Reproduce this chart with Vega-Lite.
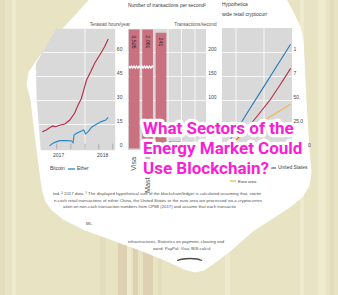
{
  "$schema": "https://vega.github.io/schema/vega-lite/v6.json",
  "width": 338,
  "height": 295,
  "padding": 0,
  "autosize": {"type": "none"},
  "background": "#e8e3c3",
  "config": {"view": {"stroke": null}},
  "resolve": {"scale": {"x": "independent", "y": "independent", "color": "independent"}},
  "layer": [
    {
      "layer": [
        {
          "data": {"values": [
            {"x0": 0, "x1": 5, "shade": "pale"},
            {"x0": 12, "x1": 16, "shade": "light"},
            {"x0": 100, "x1": 106, "shade": "pale"},
            {"x0": 118, "x1": 127, "shade": "tan"},
            {"x0": 127, "x1": 131, "shade": "light"},
            {"x0": 133, "x1": 138, "shade": "tan"},
            {"x0": 143, "x1": 153, "shade": "tan"},
            {"x0": 158, "x1": 162, "shade": "pale"},
            {"x0": 225, "x1": 230, "shade": "light"},
            {"x0": 300, "x1": 304, "shade": "light"},
            {"x0": 318, "x1": 326, "shade": "light"},
            {"x0": 330, "x1": 334, "shade": "pale"}
          ]},
          "mark": {"type": "rect"},
          "encoding": {
            "x": {"field": "x0", "type": "quantitative", "scale": {"domain": [0, 338], "range": [0, 338], "nice": false, "zero": false}, "axis": null},
            "x2": {"field": "x1"},
            "y": {"datum": 0, "type": "quantitative", "scale": {"domain": [0, 295], "range": [0, 295], "nice": false, "zero": false}, "axis": null},
            "y2": {"datum": 295},
            "color": {"field": "shade", "type": "nominal", "scale": {"domain": ["pale", "light", "tan"], "range": ["#e3ddbd", "#eeeace", "#ddd1b2"]}, "legend": null}
          }
        },
        {
          "data": {"values": [
            {"i": 1, "x": 92, "y": -3}, {"i": 2, "x": 285, "y": -3}, {"i": 3, "x": 294, "y": 14},
            {"i": 4, "x": 300, "y": 27}, {"i": 5, "x": 303, "y": 40}, {"i": 6, "x": 306, "y": 100},
            {"i": 7, "x": 309, "y": 150}, {"i": 8, "x": 311, "y": 172}, {"i": 9, "x": 309, "y": 186},
            {"i": 10, "x": 302, "y": 197}, {"i": 11, "x": 290, "y": 207}, {"i": 12, "x": 253, "y": 231},
            {"i": 13, "x": 230, "y": 251}, {"i": 14, "x": 213, "y": 264}, {"i": 15, "x": 204, "y": 270},
            {"i": 16, "x": 195, "y": 272}, {"i": 17, "x": 184, "y": 269}, {"i": 18, "x": 167, "y": 261},
            {"i": 19, "x": 140, "y": 250}, {"i": 20, "x": 85, "y": 230}, {"i": 21, "x": 63, "y": 219},
            {"i": 22, "x": 52, "y": 210}, {"i": 23, "x": 46, "y": 202}, {"i": 24, "x": 43, "y": 192},
            {"i": 25, "x": 41, "y": 180}, {"i": 26, "x": 37, "y": 150}, {"i": 27, "x": 31, "y": 100},
            {"i": 28, "x": 27, "y": 85}, {"i": 29, "x": 29, "y": 72}, {"i": 30, "x": 40, "y": 56},
            {"i": 31, "x": 60, "y": 32}
          ]},
          "mark": {"type": "line", "interpolate": "linear-closed", "fill": "#ffffff", "stroke": "#ffffff", "strokeWidth": 1},
          "encoding": {
            "x": {"field": "x", "type": "quantitative", "scale": {"domain": [0, 338], "range": [0, 338], "nice": false, "zero": false}, "axis": null},
            "y": {"field": "y", "type": "quantitative", "scale": {"domain": [0, 295], "range": [0, 295], "nice": false, "zero": false}, "axis": null},
            "order": {"field": "i", "type": "quantitative"}
          }
        },
        {
          "data": {"values": [
            {"i": 1, "x": 56, "y": 29}, {"i": 2, "x": 115, "y": 29}, {"i": 3, "x": 115, "y": 150},
            {"i": 4, "x": 41, "y": 150}, {"i": 5, "x": 37, "y": 100}, {"i": 6, "x": 36, "y": 64}
          ]},
          "mark": {"type": "line", "interpolate": "linear-closed", "fill": "#d9d9da", "stroke": "#d9d9da", "strokeWidth": 0.5},
          "encoding": {
            "x": {"field": "x", "type": "quantitative", "scale": {"domain": [0, 338], "range": [0, 338], "nice": false, "zero": false}, "axis": null},
            "y": {"field": "y", "type": "quantitative", "scale": {"domain": [0, 295], "range": [0, 295], "nice": false, "zero": false}, "axis": null},
            "order": {"field": "i", "type": "quantitative"}
          }
        },
        {
          "data": {"values": [
            {"x0": 128, "x1": 206, "y0": 29, "y1": 150},
            {"x0": 222, "x1": 292, "y0": 28, "y1": 150}
          ]},
          "mark": {"type": "rect", "fill": "#d9d9da"},
          "encoding": {
            "x": {"field": "x0", "type": "quantitative", "scale": {"domain": [0, 338], "range": [0, 338], "nice": false, "zero": false}, "axis": null},
            "x2": {"field": "x1"},
            "y": {"field": "y0", "type": "quantitative", "scale": {"domain": [0, 295], "range": [0, 295], "nice": false, "zero": false}, "axis": null},
            "y2": {"field": "y1"}
          }
        },
        {
          "data": {"values": [
            {"x0": 43, "x1": 115, "y0": 52.5, "y1": 52.5},
            {"x0": 36.5, "x1": 115, "y0": 76.5, "y1": 76.5},
            {"x0": 37, "x1": 115, "y0": 100.5, "y1": 100.5},
            {"x0": 38, "x1": 115, "y0": 124.5, "y1": 124.5},
            {"x0": 85, "x1": 85, "y0": 29, "y1": 150},
            {"x0": 128, "x1": 206, "y0": 52.5, "y1": 52.5},
            {"x0": 128, "x1": 206, "y0": 76.5, "y1": 76.5},
            {"x0": 128, "x1": 206, "y0": 100.5, "y1": 100.5},
            {"x0": 128, "x1": 206, "y0": 124.5, "y1": 124.5},
            {"x0": 168, "x1": 168, "y0": 29, "y1": 150},
            {"x0": 181.5, "x1": 181.5, "y0": 29, "y1": 150},
            {"x0": 195, "x1": 195, "y0": 29, "y1": 150},
            {"x0": 222, "x1": 292, "y0": 52.5, "y1": 52.5},
            {"x0": 222, "x1": 292, "y0": 76.5, "y1": 76.5},
            {"x0": 222, "x1": 292, "y0": 100.5, "y1": 100.5},
            {"x0": 222, "x1": 292, "y0": 124.5, "y1": 124.5},
            {"x0": 236, "x1": 236, "y0": 28, "y1": 150},
            {"x0": 264, "x1": 264, "y0": 28, "y1": 150}
          ]},
          "mark": {"type": "rule", "color": "#ffffff", "strokeWidth": 0.8},
          "encoding": {
            "x": {"field": "x0", "type": "quantitative", "scale": {"domain": [0, 338], "range": [0, 338], "nice": false, "zero": false}, "axis": null},
            "x2": {"field": "x1"},
            "y": {"field": "y0", "type": "quantitative", "scale": {"domain": [0, 295], "range": [0, 295], "nice": false, "zero": false}, "axis": null},
            "y2": {"field": "y1"}
          }
        }
      ]
    },
    {
      "layer": [
        {
          "data": {"values": [
            {"date": "2017-07-01"}, {"date": "2017-10-01"}, {"date": "2018-01-01"}, {"date": "2018-04-01"}, {"date": "2018-07-01"}
          ]},
          "mark": {"type": "rule", "color": "#9a9a9a", "strokeWidth": 0.7},
          "encoding": {
            "x": {"field": "date", "type": "temporal", "scale": {"type": "utc", "domain": [{"year": 2017, "month": 1, "date": 1, "utc": true}, {"year": 2018, "month": 1, "date": 1, "utc": true}], "range": [29, 85], "nice": false}, "axis": null},
            "y": {"datum": -0.5, "type": "quantitative", "scale": {"domain": [0, 60], "range": [148.5, 52.5], "nice": false, "zero": false}, "axis": null},
            "y2": {"datum": 3}
          }
        },
        {
          "data": {"values": [
            {"date": "2017-03-29", "series": "Bitcoin", "twh": 10.5},
            {"date": "2017-04-24", "series": "Bitcoin", "twh": 11.6},
            {"date": "2017-05-20", "series": "Bitcoin", "twh": 13.3},
            {"date": "2017-06-06", "series": "Bitcoin", "twh": 14.1},
            {"date": "2017-06-24", "series": "Bitcoin", "twh": 13.6},
            {"date": "2017-07-20", "series": "Bitcoin", "twh": 14.5},
            {"date": "2017-08-22", "series": "Bitcoin", "twh": 15.3},
            {"date": "2017-09-24", "series": "Bitcoin", "twh": 17.8},
            {"date": "2017-10-26", "series": "Bitcoin", "twh": 22.2},
            {"date": "2017-11-17", "series": "Bitcoin", "twh": 27.2},
            {"date": "2017-12-09", "series": "Bitcoin", "twh": 31.4},
            {"date": "2017-12-24", "series": "Bitcoin", "twh": 36.6},
            {"date": "2018-01-11", "series": "Bitcoin", "twh": 42.8},
            {"date": "2018-02-07", "series": "Bitcoin", "twh": 48.0},
            {"date": "2018-03-05", "series": "Bitcoin", "twh": 53.3},
            {"date": "2018-04-07", "series": "Bitcoin", "twh": 58.4},
            {"date": "2018-05-09", "series": "Bitcoin", "twh": 63.6},
            {"date": "2018-06-01", "series": "Bitcoin", "twh": 68.4},
            {"date": "2017-05-15", "series": "Ether", "twh": 1.6},
            {"date": "2017-06-06", "series": "Ether", "twh": 3.3},
            {"date": "2017-07-02", "series": "Ether", "twh": 4.3},
            {"date": "2017-07-20", "series": "Ether", "twh": 4.9},
            {"date": "2017-09-02", "series": "Ether", "twh": 4.9},
            {"date": "2017-10-05", "series": "Ether", "twh": 4.7},
            {"date": "2017-10-15", "series": "Ether", "twh": 3.6},
            {"date": "2017-10-22", "series": "Ether", "twh": 8.4},
            {"date": "2017-11-07", "series": "Ether", "twh": 9.5},
            {"date": "2017-12-09", "series": "Ether", "twh": 10.9},
            {"date": "2017-12-24", "series": "Ether", "twh": 11.6},
            {"date": "2018-01-05", "series": "Ether", "twh": 9.1},
            {"date": "2018-01-22", "series": "Ether", "twh": 10.5},
            {"date": "2018-02-13", "series": "Ether", "twh": 13.3},
            {"date": "2018-03-16", "series": "Ether", "twh": 15.1},
            {"date": "2018-04-18", "series": "Ether", "twh": 16.8},
            {"date": "2018-05-16", "series": "Ether", "twh": 17.8},
            {"date": "2018-06-01", "series": "Ether", "twh": 19.5}
          ]},
          "mark": {"type": "line", "strokeWidth": 1.1},
          "encoding": {
            "x": {"field": "date", "type": "temporal", "scale": {"type": "utc", "domain": [{"year": 2017, "month": 1, "date": 1, "utc": true}, {"year": 2018, "month": 1, "date": 1, "utc": true}], "range": [29, 85], "nice": false}, "axis": null},
            "y": {"field": "twh", "type": "quantitative", "scale": {"domain": [0, 60], "range": [148.5, 52.5], "nice": false, "zero": false}, "axis": null},
            "color": {"field": "series", "type": "nominal", "scale": {"domain": ["Bitcoin", "Ether"], "range": ["#b52a42", "#2a85c4"]}, "legend": null}
          }
        },
        {
          "data": {"values": [{"twh": 0}, {"twh": 15}, {"twh": 30}, {"twh": 45}, {"twh": 60}]},
          "mark": {"type": "text", "align": "right", "baseline": "middle", "dy": -3.5, "fontSize": 5, "font": "Liberation Sans", "color": "#444444"},
          "encoding": {
            "x": {"datum": {"year": 2018, "month": 9, "date": 2, "utc": true}, "type": "temporal", "scale": {"type": "utc", "domain": [{"year": 2017, "month": 1, "date": 1, "utc": true}, {"year": 2018, "month": 1, "date": 1, "utc": true}], "range": [29, 85], "nice": false}, "axis": null},
            "y": {"field": "twh", "type": "quantitative", "scale": {"domain": [0, 60], "range": [148.5, 52.5], "nice": false, "zero": false}, "axis": null},
            "text": {"field": "twh", "type": "quantitative", "format": "d"}
          }
        },
        {
          "data": {"values": [{"date": "2017-07-13", "label": "2017"}, {"date": "2018-04-26", "label": "2018"}]},
          "mark": {"type": "text", "align": "center", "baseline": "middle", "fontSize": 5, "font": "Liberation Sans", "color": "#444444"},
          "encoding": {
            "x": {"field": "date", "type": "temporal", "scale": {"type": "utc", "domain": [{"year": 2017, "month": 1, "date": 1, "utc": true}, {"year": 2018, "month": 1, "date": 1, "utc": true}], "range": [29, 85], "nice": false}, "axis": null},
            "y": {"datum": -4.2, "type": "quantitative", "scale": {"domain": [0, 60], "range": [148.5, 52.5], "nice": false, "zero": false}, "axis": null},
            "text": {"field": "label", "type": "nominal"}
          }
        }
      ]
    },
    {
      "data": {"values": [
        {"name": "Visa", "tps": 3526},
        {"name": "Mastercard", "tps": 2061},
        {"name": "PayPal", "tps": 241},
        {"name": "Ethereum", "tps": 15},
        {"name": "Bitcoin", "tps": 3.3}
      ]},
      "layer": [
        {
          "mark": {"type": "bar", "color": "#c9717f"},
          "encoding": {
            "x": {"field": "name", "type": "nominal", "sort": null, "scale": {"type": "band", "domain": ["Visa", "Mastercard", "PayPal", "Ethereum", "Bitcoin"], "range": [127.5, 194.5], "paddingInner": 0.2, "paddingOuter": 0.1}, "axis": null},
            "y": {"field": "tps", "type": "quantitative", "scale": {"domain": [0, 248], "range": [148.5, 29.46], "clamp": true, "nice": false, "zero": false}, "axis": null}
          }
        },
        {
          "transform": [{"filter": "datum.tps > 200"}],
          "mark": {"type": "text", "angle": 90, "align": "center", "baseline": "middle", "fontSize": 5.3, "font": "Liberation Sans", "color": "#3a1a22"},
          "encoding": {
            "x": {"field": "name", "type": "nominal", "sort": null, "scale": {"type": "band", "domain": ["Visa", "Mastercard", "PayPal", "Ethereum", "Bitcoin"], "range": [127.5, 194.5], "paddingInner": 0.2, "paddingOuter": 0.1}, "axis": null},
            "y": {"datum": 222, "type": "quantitative", "scale": {"domain": [0, 248], "range": [148.5, 29.46], "clamp": true, "nice": false, "zero": false}, "axis": null},
            "text": {"field": "tps", "type": "quantitative", "format": ","}
          }
        },
        {
          "transform": [{"filter": "datum.tps > 1000"}],
          "mark": {"type": "text", "angle": 270, "align": "right", "baseline": "middle", "dx": -8.5, "fontSize": 7.2, "font": "Liberation Sans", "color": "#555555"},
          "encoding": {
            "x": {"field": "name", "type": "nominal", "sort": null, "scale": {"type": "band", "domain": ["Visa", "Mastercard", "PayPal", "Ethereum", "Bitcoin"], "range": [127.5, 194.5], "paddingInner": 0.2, "paddingOuter": 0.1}, "axis": null},
            "y": {"datum": 0, "type": "quantitative", "scale": {"domain": [0, 248], "range": [148.5, 29.46], "clamp": true, "nice": false, "zero": false}, "axis": null},
            "text": {"field": "name", "type": "nominal"}
          }
        },
        {
          "data": {"values": [{"tps": 100}, {"tps": 150}, {"tps": 200}]},
          "mark": {"type": "text", "align": "right", "baseline": "middle", "dy": -3.5, "dx": 28.7, "fontSize": 5, "font": "Liberation Sans", "color": "#444444"},
          "encoding": {
            "x": {"datum": "Bitcoin", "type": "nominal", "scale": {"type": "band", "domain": ["Visa", "Mastercard", "PayPal", "Ethereum", "Bitcoin"], "range": [127.5, 194.5], "paddingInner": 0.2, "paddingOuter": 0.1}, "axis": null},
            "y": {"field": "tps", "type": "quantitative", "scale": {"domain": [0, 248], "range": [148.5, 29.46], "clamp": true, "nice": false, "zero": false}, "axis": null},
            "text": {"field": "tps", "type": "quantitative", "format": "d"}
          }
        }
      ]
    },
    {
      "layer": [
        {
          "data": {"values": [
            {"t": 0.4, "region": "United States", "size": 0},
            {"t": 2, "region": "United States", "size": 18500},
            {"t": 4, "region": "United States", "size": 41600},
            {"t": 6, "region": "United States", "size": 64700},
            {"t": 8, "region": "United States", "size": 87800},
            {"t": 9.8, "region": "United States", "size": 108600},
            {"t": 0.4, "region": "China", "size": 0},
            {"t": 1.5, "region": "China", "size": 5500},
            {"t": 3, "region": "China", "size": 15500},
            {"t": 4.96, "region": "China", "size": 33100},
            {"t": 6.86, "region": "China", "size": 50500},
            {"t": 8.29, "region": "China", "size": 66100},
            {"t": 9.81, "region": "China", "size": 83500},
            {"t": 0.4, "region": "Euro area", "size": 0},
            {"t": 3.5, "region": "Euro area", "size": 16500},
            {"t": 6.86, "region": "Euro area", "size": 33100},
            {"t": 9.81, "region": "Euro area", "size": 46000}
          ]},
          "mark": {"type": "line", "strokeWidth": 1.1},
          "encoding": {
            "x": {"field": "t", "type": "quantitative", "scale": {"domain": [0, 10], "range": [222, 292], "nice": false, "zero": false}, "axis": null},
            "y": {"field": "size", "type": "quantitative", "scale": {"domain": [0, 100000], "range": [148.5, 52.5], "nice": false, "zero": false}, "axis": null},
            "color": {"field": "region", "type": "nominal", "scale": {"domain": ["China", "United States", "Euro area"], "range": ["#b52a42", "#2478b8", "#efb84f"]}, "legend": null}
          }
        },
        {
          "data": {"values": [
            {"size": 100000, "shown": "1"},
            {"size": 75000, "shown": "7"},
            {"size": 50000, "shown": "50,"},
            {"size": 25000, "shown": "25,0"}
          ]},
          "mark": {"type": "text", "align": "left", "baseline": "middle", "dy": -3.5, "fontSize": 5, "font": "Liberation Sans", "color": "#444444"},
          "encoding": {
            "x": {"datum": 10.2, "type": "quantitative", "scale": {"domain": [0, 10], "range": [222, 292], "nice": false, "zero": false}, "axis": null},
            "y": {"field": "size", "type": "quantitative", "scale": {"domain": [0, 100000], "range": [148.5, 52.5], "nice": false, "zero": false}, "axis": null},
            "text": {"field": "shown", "type": "nominal"}
          }
        },
        {
          "data": {"values": [{"size": 0, "shown": "0"}]},
          "mark": {"type": "text", "align": "right", "baseline": "middle", "dy": -3.5, "fontSize": 5, "font": "Liberation Sans", "color": "#444444"},
          "encoding": {
            "x": {"datum": 12.7, "type": "quantitative", "scale": {"domain": [0, 10], "range": [222, 292], "nice": false, "zero": false}, "axis": null},
            "y": {"field": "size", "type": "quantitative", "scale": {"domain": [0, 100000], "range": [148.5, 52.5], "nice": false, "zero": false}, "axis": null},
            "text": {"field": "shown", "type": "nominal"}
          }
        }
      ]
    },
    {
      "layer": [
        {
          "data": {"values": [
            {"i": 1, "x": 128.8, "y": 66.2}, {"i": 2, "x": 130.1, "y": 68}, {"i": 3, "x": 131.4, "y": 66.2},
            {"i": 4, "x": 132.7, "y": 68}, {"i": 5, "x": 134, "y": 66.2}, {"i": 6, "x": 135.3, "y": 68},
            {"i": 7, "x": 136.6, "y": 66.2}, {"i": 8, "x": 137.9, "y": 68}, {"i": 9, "x": 139.2, "y": 66.2},
            {"i": 10, "x": 140.5, "y": 68}, {"i": 11, "x": 141.8, "y": 66.2}, {"i": 12, "x": 143.1, "y": 68},
            {"i": 13, "x": 144.4, "y": 66.2}, {"i": 14, "x": 145.7, "y": 68}, {"i": 15, "x": 147, "y": 66.2},
            {"i": 16, "x": 148.3, "y": 68}, {"i": 17, "x": 149.6, "y": 66.2}, {"i": 18, "x": 150.9, "y": 68},
            {"i": 19, "x": 152.2, "y": 66.2}, {"i": 20, "x": 153, "y": 67.2}
          ]},
          "mark": {"type": "line", "color": "#ffffff", "strokeWidth": 1.4},
          "encoding": {
            "x": {"field": "x", "type": "quantitative", "scale": {"domain": [0, 338], "range": [0, 338], "nice": false, "zero": false}, "axis": null},
            "y": {"field": "y", "type": "quantitative", "scale": {"domain": [0, 295], "range": [0, 295], "nice": false, "zero": false}, "axis": null},
            "order": {"field": "i", "type": "quantitative"}
          }
        },
        {
          "data": {"values": [
            {"i": 1, "x": 177, "y": 260.5}, {"i": 2, "x": 183, "y": 259}, {"i": 3, "x": 190, "y": 258.5},
            {"i": 4, "x": 197, "y": 259}, {"i": 5, "x": 202, "y": 260.5}
          ]},
          "mark": {"type": "line", "color": "#4a4a4a", "strokeWidth": 1.3, "interpolate": "monotone"},
          "encoding": {
            "x": {"field": "x", "type": "quantitative", "scale": {"domain": [0, 338], "range": [0, 338], "nice": false, "zero": false}, "axis": null},
            "y": {"field": "y", "type": "quantitative", "scale": {"domain": [0, 295], "range": [0, 295], "nice": false, "zero": false}, "axis": null},
            "order": {"field": "i", "type": "quantitative"}
          }
        },
        {
          "data": {"values": [
            {"x0": 68, "x1": 75, "y": 169, "series": "Ether"},
            {"x0": 268, "x1": 276, "y": 168, "series": "United States"},
            {"x0": 230, "x1": 236, "y": 181, "series": "Euro area"}
          ]},
          "mark": {"type": "rule", "strokeWidth": 1.3},
          "encoding": {
            "x": {"field": "x0", "type": "quantitative", "scale": {"domain": [0, 338], "range": [0, 338], "nice": false, "zero": false}, "axis": null},
            "x2": {"field": "x1"},
            "y": {"field": "y", "type": "quantitative", "scale": {"domain": [0, 295], "range": [0, 295], "nice": false, "zero": false}, "axis": null},
            "color": {"field": "series", "type": "nominal", "scale": {"domain": ["Ether", "United States", "Euro area"], "range": ["#2a85c4", "#2478b8", "#efb84f"]}, "legend": null}
          }
        },
        {
          "data": {"values": [
            {"x": 50, "y": 169, "t": "Bitcoin"},
            {"x": 77, "y": 169, "t": "Ether"},
            {"x": 278, "y": 168, "t": "United States"},
            {"x": 128, "y": 5.5, "t": "Number of transactions per second²"},
            {"x": 222, "y": 5, "t": "Hypothetica"},
            {"x": 222, "y": 14.5, "t": "wide retail cryptocurr"}
          ]},
          "mark": {"type": "text", "align": "left", "baseline": "middle", "fontSize": 4.9, "font": "Liberation Sans", "color": "#3a3a3a"},
          "encoding": {
            "x": {"field": "x", "type": "quantitative", "scale": {"domain": [0, 338], "range": [0, 338], "nice": false, "zero": false}, "axis": null},
            "y": {"field": "y", "type": "quantitative", "scale": {"domain": [0, 295], "range": [0, 295], "nice": false, "zero": false}, "axis": null},
            "text": {"field": "t", "type": "nominal"}
          }
        },
        {
          "data": {"values": [
            {"x": 238, "y": 181.5, "t": "Euro area"}
          ]},
          "mark": {"type": "text", "align": "left", "baseline": "middle", "fontSize": 4.2, "font": "Liberation Sans", "color": "#3a3a3a"},
          "encoding": {
            "x": {"field": "x", "type": "quantitative", "scale": {"domain": [0, 338], "range": [0, 338], "nice": false, "zero": false}, "axis": null},
            "y": {"field": "y", "type": "quantitative", "scale": {"domain": [0, 295], "range": [0, 295], "nice": false, "zero": false}, "axis": null},
            "text": {"field": "t", "type": "nominal"}
          }
        },
        {
          "data": {"values": [
            {"x": 130, "y": 25, "t": "Terawatt hours/year"},
            {"x": 216.5, "y": 25, "t": "Transactions/second"}
          ]},
          "mark": {"type": "text", "align": "right", "baseline": "middle", "fontSize": 4.6, "font": "Liberation Sans", "color": "#555555"},
          "encoding": {
            "x": {"field": "x", "type": "quantitative", "scale": {"domain": [0, 338], "range": [0, 338], "nice": false, "zero": false}, "axis": null},
            "y": {"field": "y", "type": "quantitative", "scale": {"domain": [0, 295], "range": [0, 295], "nice": false, "zero": false}, "axis": null},
            "text": {"field": "t", "type": "nominal"}
          }
        },
        {
          "data": {"values": [
            {"x": 53, "y": 194, "t": "ted.  ² 2017 data.  ³ The displayed hypothetical size of the blockchain/ledger is calculated assuming that, startin"},
            {"x": 54, "y": 200.5, "t": "n-cash retail transactions of either China, the United States or the euro area are processed via a cryptocurren"},
            {"x": 63, "y": 207, "t": "ation on non-cash transaction numbers from CPMI (2017) and assume that each transactio"},
            {"x": 86, "y": 224, "t": "ML."},
            {"x": 128, "y": 242, "t": "infrastructures, Statistics on payment, clearing and"},
            {"x": 153, "y": 248.5, "t": "ward; PayPal; Visa; BIS calcul"}
          ]},
          "mark": {"type": "text", "align": "left", "baseline": "middle", "fontSize": 4.3, "font": "Liberation Sans", "color": "#505050"},
          "encoding": {
            "x": {"field": "x", "type": "quantitative", "scale": {"domain": [0, 338], "range": [0, 338], "nice": false, "zero": false}, "axis": null},
            "y": {"field": "y", "type": "quantitative", "scale": {"domain": [0, 295], "range": [0, 295], "nice": false, "zero": false}, "axis": null},
            "text": {"field": "t", "type": "nominal"}
          }
        },
        {
          "data": {"values": [
            {"x": 143, "y": 133.5, "t": "What Sectors of the"},
            {"x": 143, "y": 153.5, "t": "Energy Market Could"},
            {"x": 143, "y": 173.5, "t": "Use Blockchain?"}
          ]},
          "layer": [
            {
              "mark": {"type": "text", "align": "left", "baseline": "alphabetic", "fontSize": 17, "font": "Roboto", "fontWeight": "bold", "color": "#ffffff", "stroke": "#ffffff", "strokeWidth": 6.5, "strokeJoin": "round"},
              "encoding": {
                "x": {"field": "x", "type": "quantitative", "scale": {"domain": [0, 338], "range": [0, 338], "nice": false, "zero": false}, "axis": null},
                "y": {"field": "y", "type": "quantitative", "scale": {"domain": [0, 295], "range": [0, 295], "nice": false, "zero": false}, "axis": null},
                "text": {"field": "t", "type": "nominal"}
              }
            },
            {
              "mark": {"type": "text", "align": "left", "baseline": "alphabetic", "fontSize": 17, "font": "Roboto", "fontWeight": "bold", "color": "#fa1ed6"},
              "encoding": {
                "x": {"field": "x", "type": "quantitative", "scale": {"domain": [0, 338], "range": [0, 338], "nice": false, "zero": false}, "axis": null},
                "y": {"field": "y", "type": "quantitative", "scale": {"domain": [0, 295], "range": [0, 295], "nice": false, "zero": false}, "axis": null},
                "text": {"field": "t", "type": "nominal"}
              }
            }
          ]
        }
      ]
    }
  ]
}
